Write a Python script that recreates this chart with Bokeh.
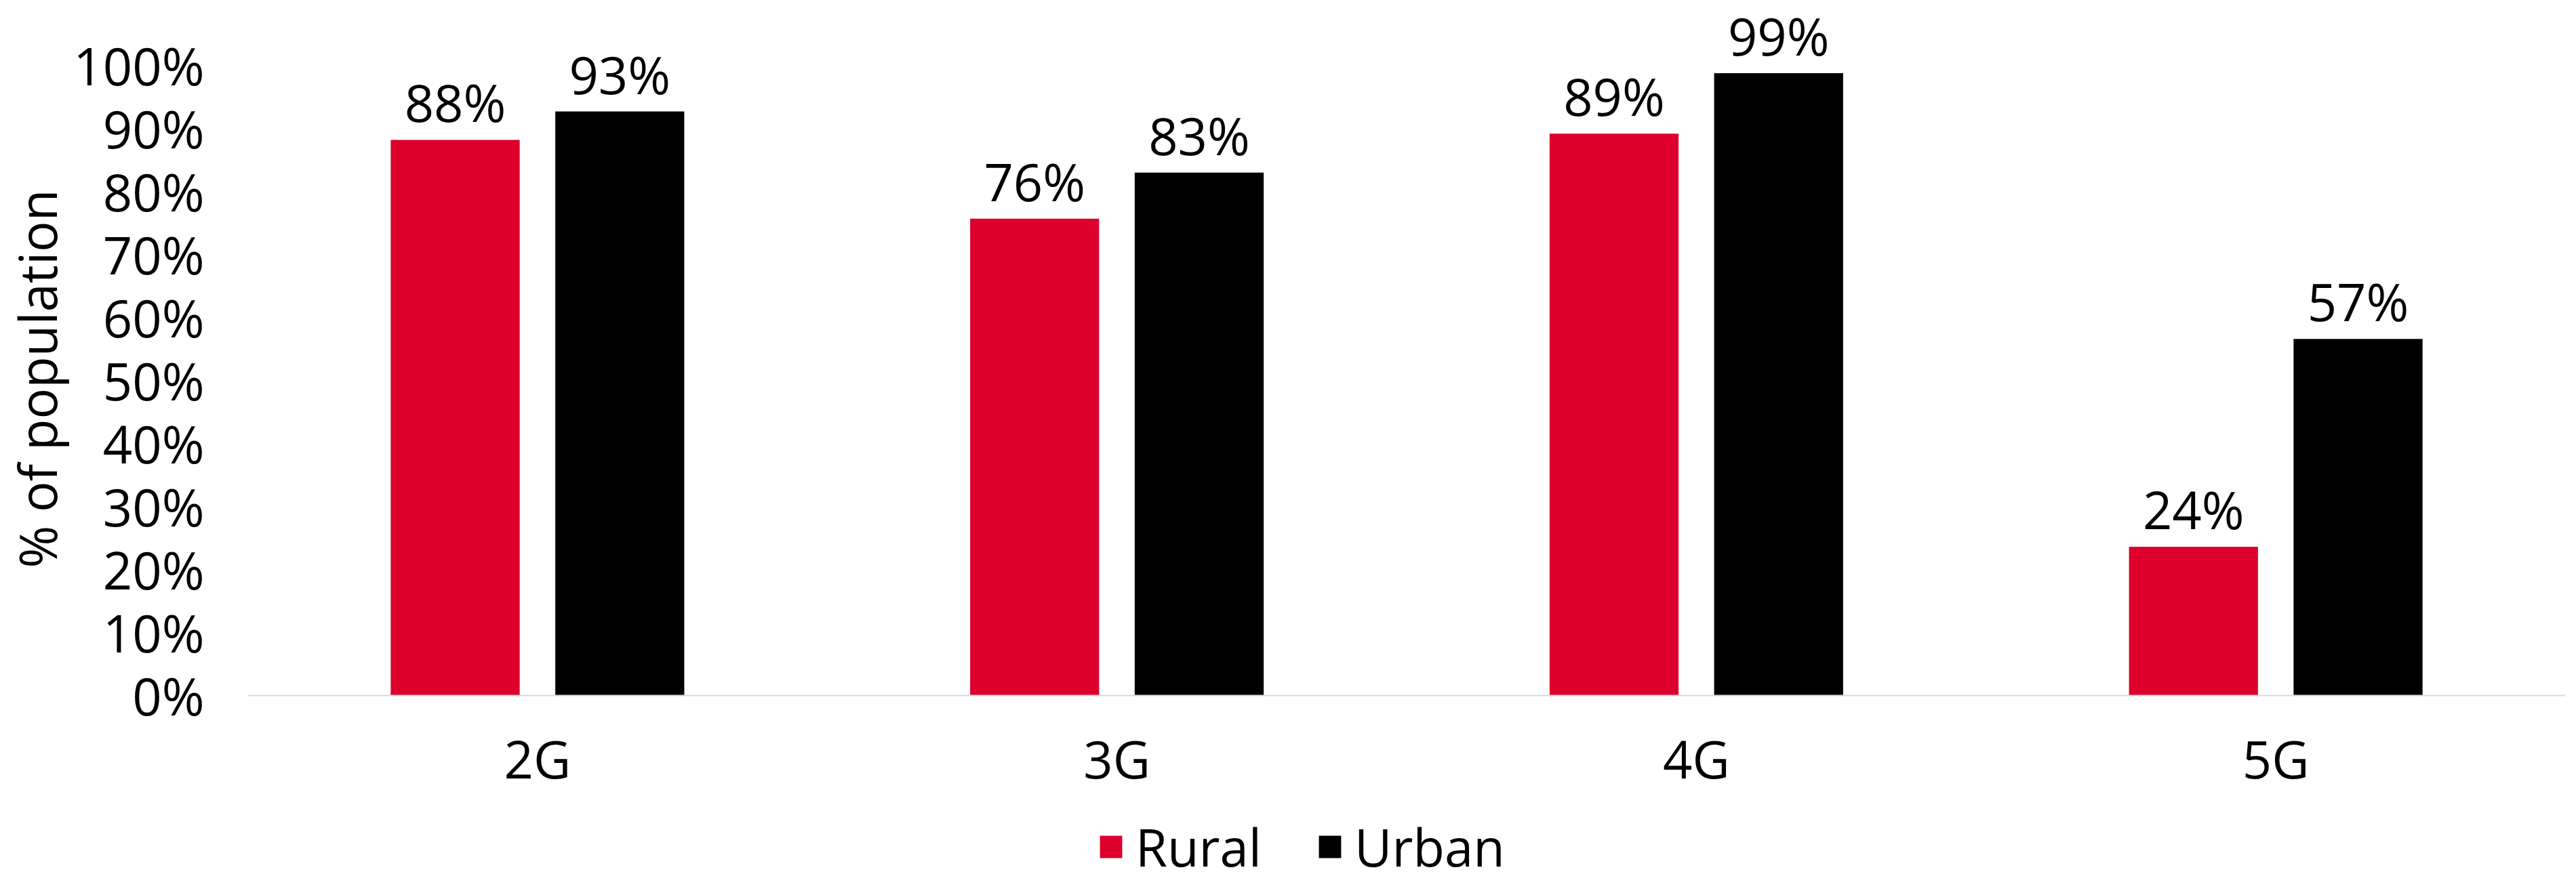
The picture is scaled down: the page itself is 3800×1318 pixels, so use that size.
from bokeh.plotting import figure
from bokeh.layouts import column
from bokeh.models import (FactorRange, Range1d, FixedTicker, PrintfTickFormatter,
                          Legend, LegendItem, LabelSet, Title, ColumnDataSource)
from bokeh.transform import dodge
from bokeh.core.properties import value
from bokeh.embed import file_html
from bokeh.resources import INLINE

# ---- data ----
categories = ["2G", "3G", "4G", "5G"]
rural = [88.2, 75.7, 89.2, 23.6]
urban = [92.7, 83.0, 98.8, 56.6]
rural_labels = ["88%", "76%", "89%", "24%"]
urban_labels = ["93%", "83%", "99%", "57%"]
series_names = ["Rural", "Urban"]
y_ticks = [0, 10, 20, 30, 40, 50, 60, 70, 80, 90, 100]
y_title = "% of population"

# ---- styles ----
RED = "#DD002C"
BLACK = "#000000"
AXIS_GREY = "#D9D9D9"
FONT = "Open Sans"
FS = "76px"
W = 3784
H_MAIN = 1173
H_TOTAL = 1302

src = ColumnDataSource(dict(cat=categories, rural=rural, urban=urban,
                            rl=rural_labels, ul=urban_labels))

p = figure(x_range=FactorRange(*categories), y_range=Range1d(0, 110.35),
           width=W, height=H_MAIN, output_backend="svg", toolbar_location=None,
           min_border_left=352, min_border_right=0, min_border_top=0,
           min_border_bottom=139)

off = 0.142
bw = 0.2226
p.vbar(x=dodge("cat", -off, range=p.x_range), top="rural", width=bw,
       source=src, fill_color=RED, line_color=None)
p.vbar(x=dodge("cat", off, range=p.x_range), top="urban", width=bw,
       source=src, fill_color=BLACK, line_color=None)

for col, lab, dx in (("rural", "rl", -off), ("urban", "ul", off)):
    p.add_layout(LabelSet(x=dodge("cat", dx, range=p.x_range), y=col, text=lab,
                          source=src, text_align="center", text_baseline="alphabetic",
                          y_offset=26, text_font=value(FONT), text_font_size=value(FS),
                          text_color="black"))

# axes
xa = p.xaxis[0]
xa.axis_line_color = AXIS_GREY
xa.axis_line_width = 2
xa.major_tick_line_color = None
xa.minor_tick_line_color = None
xa.major_label_text_font = FONT
xa.major_label_text_font_size = FS
xa.major_label_text_color = "black"
xa.major_label_standoff = 35

ya = p.yaxis[0]
ya.axis_line_color = None
ya.major_tick_line_color = None
ya.minor_tick_line_color = None
ya.ticker = FixedTicker(ticks=y_ticks)
ya.formatter = PrintfTickFormatter(format="%d%%")
ya.major_label_text_font = FONT
ya.major_label_text_font_size = FS
ya.major_label_text_color = "black"
ya.major_label_standoff = 58

# y-axis title (left title, placed to centre on the 0-100 span)
p.add_layout(Title(text=y_title, align="left", offset=188, standoff=0,
                   text_font=FONT, text_font_size=FS, text_font_style="normal",
                   text_color="black"), "left")

p.grid.visible = False
p.outline_line_color = None

# ---- legend strip below the chart ----
lg = figure(width=W, height=H_TOTAL - H_MAIN, x_range=Range1d(0, 1), y_range=Range1d(0, 1),
            output_backend="svg", toolbar_location=None,
            min_border_left=0, min_border_right=0, min_border_top=0, min_border_bottom=0)
lg.axis.visible = False
lg.grid.visible = False
lg.outline_line_color = None
sw_r = lg.vbar(x=[-5], top=[-5], width=0.1, fill_color=RED, line_color=None)
sw_u = lg.vbar(x=[-5], top=[-5], width=0.1, fill_color=BLACK, line_color=None)

legend = Legend(items=[LegendItem(label=series_names[0], renderers=[sw_r]),
                       LegendItem(label=series_names[1], renderers=[sw_u])],
                orientation="horizontal", location=(1253, 1),
                glyph_width=41, glyph_height=41, label_standoff=16, spacing=80,
                padding=0, margin=0, border_line_color=None, background_fill_alpha=0,
                label_text_font=FONT, label_text_font_size=FS, label_text_color="black")
lg.add_layout(legend, "center")

layout = column(p, lg, spacing=0)
open("out.html", "w").write(file_html(layout, INLINE))
